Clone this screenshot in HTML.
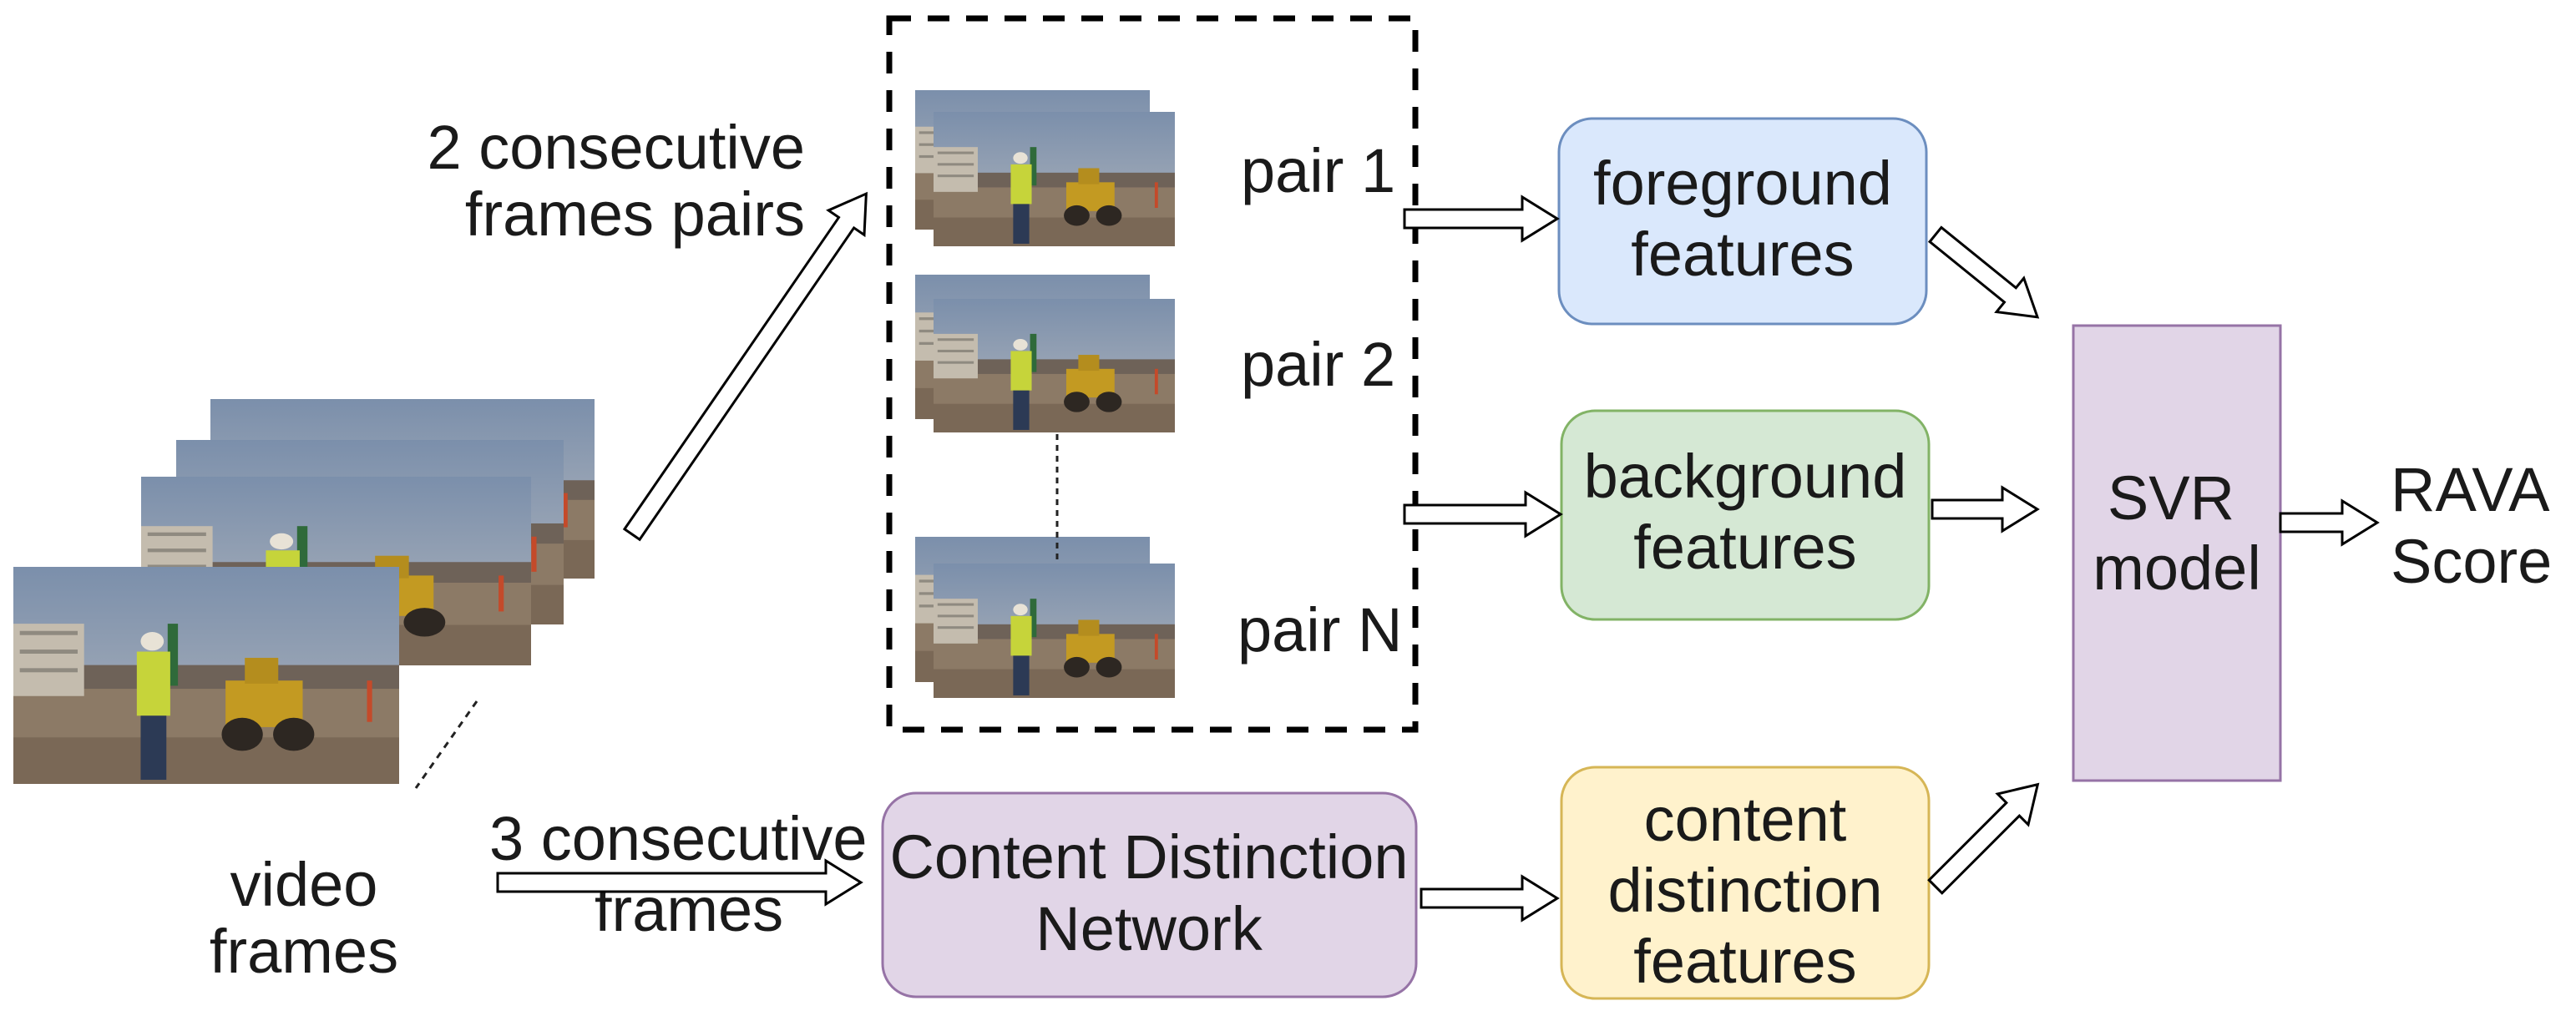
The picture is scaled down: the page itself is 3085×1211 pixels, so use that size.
<!DOCTYPE html>
<html><head><meta charset="utf-8"><style>
html,body{margin:0;padding:0;background:#fff;}
svg{display:block;}
text{font-family:"Liberation Sans",Arial,sans-serif;font-size:74px;fill:#1a1a1a;}
</style></head><body>
<svg width="3085" height="1211" viewBox="0 0 3085 1211" xmlns="http://www.w3.org/2000/svg">
<defs>
<linearGradient id="sky" x1="0" y1="0" x2="0" y2="1">
<stop offset="0" stop-color="#7b8fab"/><stop offset="1" stop-color="#b3b7bd"/></linearGradient>
<symbol id="photo" viewBox="0 0 300 210" preserveAspectRatio="none">
<rect x="0" y="0" width="300" height="210" fill="url(#sky)"/>
<rect x="0" y="95" width="300" height="30" fill="#6e6258"/>
<rect x="0" y="118" width="300" height="92" fill="#8c7a66"/>
<rect x="0" y="165" width="300" height="45" fill="#7a6856"/>
<rect x="0" y="55" width="55" height="70" fill="#c4bcae"/>
<rect x="5" y="62" width="45" height="4" fill="#8f8a80"/>
<rect x="5" y="80" width="45" height="4" fill="#8f8a80"/>
<rect x="5" y="98" width="45" height="4" fill="#8f8a80"/>
<rect x="120" y="55" width="8" height="60" fill="#2f6a3a"/>
<circle cx="108" cy="72" r="9" fill="#e8e2d6"/>
<rect x="96" y="82" width="26" height="62" fill="#c6d43a"/>
<rect x="99" y="144" width="20" height="62" fill="#2c3a55"/>
<rect x="165" y="110" width="60" height="45" fill="#c39a22"/>
<rect x="180" y="88" width="26" height="25" fill="#b48d1e"/>
<circle cx="178" cy="162" r="16" fill="#2d2722"/>
<circle cx="218" cy="162" r="16" fill="#2d2722"/>
<rect x="275" y="110" width="4" height="40" fill="#c44a2a"/>
</symbol>
</defs>

<!-- video frames stack -->
<use href="#photo" x="252" y="478" width="460" height="215"/>
<use href="#photo" x="211" y="527" width="464" height="221"/>
<use href="#photo" x="169" y="571" width="467" height="226"/>
<use href="#photo" x="16" y="679" width="462" height="260"/>
<line x1="571" y1="840" x2="498" y2="944" stroke="#222" stroke-width="3" stroke-dasharray="8,7"/>
<text x="364" y="1085" text-anchor="middle">video</text>
<text x="364" y="1165" text-anchor="middle">frames</text>

<!-- dashed box -->
<rect x="1065" y="22" width="630" height="852" fill="none" stroke="#000" stroke-width="7" stroke-dasharray="26,20"/>

<!-- pairs -->
<use href="#photo" x="1096" y="108" width="281" height="167"/>
<use href="#photo" x="1118" y="134" width="289" height="161"/>
<use href="#photo" x="1096" y="329" width="281" height="173"/>
<use href="#photo" x="1118" y="358" width="289" height="160"/>
<use href="#photo" x="1096" y="643" width="281" height="174"/>
<use href="#photo" x="1118" y="675" width="289" height="161"/>
<line x1="1266" y1="520" x2="1266" y2="673" stroke="#222" stroke-width="3" stroke-dasharray="7,6"/>
<text x="1486" y="230">pair 1</text>
<text x="1486" y="462">pair 2</text>
<text x="1482" y="780">pair N</text>

<text x="964" y="202" text-anchor="end">2 consecutive</text>
<text x="964" y="282" text-anchor="end">frames pairs</text>

<text x="586" y="1030">3 consecutive</text>
<text x="712" y="1115">frames</text>

<!-- boxes -->
<rect x="1057" y="950" width="639" height="244" rx="40" fill="#e1d5e7" stroke="#9673a6" stroke-width="3"/>
<text x="1376" y="1052" text-anchor="middle">Content Distinction</text>
<text x="1376" y="1138" text-anchor="middle">Network</text>

<rect x="1867" y="142" width="440" height="246" rx="40" fill="#dae8fc" stroke="#6c8ebf" stroke-width="3"/>
<text x="2087" y="245" text-anchor="middle">foreground</text>
<text x="2087" y="330" text-anchor="middle">features</text>

<rect x="1870" y="492" width="440" height="250" rx="40" fill="#d5e8d4" stroke="#82b366" stroke-width="3"/>
<text x="2090" y="596" text-anchor="middle">background</text>
<text x="2090" y="681" text-anchor="middle">features</text>

<rect x="1870" y="919" width="440" height="277" rx="40" fill="#fff2cc" stroke="#d6b656" stroke-width="3"/>
<text x="2090" y="1007" text-anchor="middle">content</text>
<text x="2090" y="1092" text-anchor="middle">distinction</text>
<text x="2090" y="1177" text-anchor="middle">features</text>

<rect x="2483" y="390" width="248" height="545" fill="#e1d5e7" stroke="#9673a6" stroke-width="3"/>
<text x="2600" y="622" text-anchor="middle">SVR</text>
<text x="2607" y="706" text-anchor="middle">model</text>

<text x="2863" y="612">RAVA</text>
<text x="2863" y="698">Score</text>

<!-- hollow arrows -->
<g fill="#fff" stroke="#000" stroke-width="3" stroke-linejoin="miter">
<polygon transform="translate(757,640) rotate(-55.5)" points="0,-11 453,-11 453,-26 495,0 453,26 453,11 0,11"/>
<polygon transform="translate(596,1057)" points="0,-11 393,-11 393,-26 435,0 393,26 393,11 0,11"/>
<polygon transform="translate(1682,262)" points="0,-11 141,-11 141,-26 183,0 141,26 141,11 0,11"/>
<polygon transform="translate(1682,616)" points="0,-11 145,-11 145,-26 187,0 145,26 145,11 0,11"/>
<polygon transform="translate(1702,1076)" points="0,-11 121,-11 121,-26 163,0 121,26 121,11 0,11"/>
<polygon transform="translate(2318,281) rotate(39)" points="0,-11 115,-11 115,-26 157,0 115,26 115,11 0,11"/>
<polygon transform="translate(2314,610)" points="0,-11 84,-11 84,-26 126,0 84,26 84,11 0,11"/>
<polygon transform="translate(2318,1062) rotate(-45)" points="0,-11 131,-11 131,-26 173,0 131,26 131,11 0,11"/>
<polygon transform="translate(2731,626)" points="0,-11 74,-11 74,-26 116,0 74,26 74,11 0,11"/>
</g>
</svg>
</body></html>
